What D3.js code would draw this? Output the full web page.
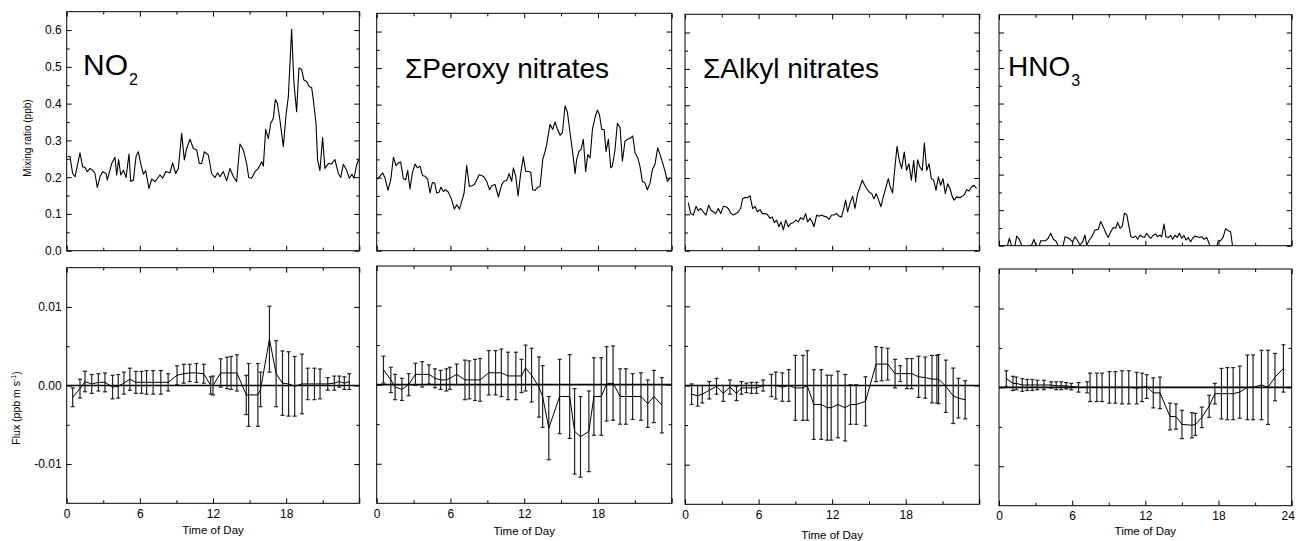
<!DOCTYPE html>
<html>
<head>
<meta charset="utf-8">
<script src="https://cdn.jsdelivr.net/npm/d3@7/dist/d3.min.js"></script>
<style>
  body { margin: 0; background: #fff; }
  svg { font-family: "Liberation Sans", Arial, Helvetica, sans-serif; }
</style>
</head>
<body>
<svg id="chart" width="1296" height="541"></svg>
<script>
// ---- mixing ratios (ppb) ----
const no2Hours = [0.08,0.27,0.49,0.68,1.09,1.31,1.50,1.69,1.91,2.13,2.32,2.51,2.73,2.95,3.23,3.33,3.69,3.96,4.10,4.26,4.43,4.65,4.87,5.11,5.25,5.47,5.69,5.88,6.07,6.29,6.48,6.75,6.97,7.24,7.46,7.65,7.87,8.12,8.47,8.69,8.94,9.16,9.43,9.65,9.84,10.11,10.39,10.66,10.88,11.07,11.29,11.62,11.89,12.16,12.38,12.57,12.85,13.12,13.39,13.67,13.94,14.21,14.49,14.76,14.93,15.17,15.44,15.72,15.99,16.13,16.32,16.54,16.73,16.95,17.11,17.28,17.49,17.77,17.99,18.18,18.45,18.64,18.86,19.05,19.27,19.46,19.68,19.90,20.09,20.23,20.45,20.58,20.77,20.99,21.18,21.46,21.73,22.00,22.28,22.47,22.69,22.96,23.18,23.40,23.56,23.78,23.94];
const no2Mix = [0.256,0.256,0.210,0.201,0.266,0.228,0.227,0.215,0.224,0.219,0.210,0.172,0.201,0.215,0.210,0.192,0.237,0.254,0.206,0.248,0.206,0.219,0.199,0.263,0.188,0.192,0.257,0.269,0.237,0.208,0.218,0.169,0.195,0.188,0.197,0.206,0.197,0.215,0.212,0.239,0.210,0.224,0.319,0.247,0.278,0.303,0.278,0.274,0.237,0.237,0.269,0.260,0.210,0.199,0.212,0.201,0.215,0.190,0.224,0.201,0.188,0.290,0.274,0.237,0.199,0.197,0.215,0.224,0.242,0.230,0.330,0.305,0.346,0.360,0.411,0.401,0.355,0.283,0.369,0.419,0.602,0.455,0.378,0.497,0.493,0.464,0.460,0.446,0.444,0.410,0.346,0.247,0.218,0.308,0.224,0.237,0.236,0.248,0.210,0.199,0.235,0.219,0.197,0.208,0.197,0.233,0.248];

const peroxyHours = [0.05,0.27,0.49,0.68,0.92,1.14,1.36,1.57,1.76,1.95,2.17,2.36,2.52,2.71,2.90,3.12,3.31,3.53,3.72,3.93,4.15,4.34,4.53,4.72,4.88,5.07,5.23,5.42,5.61,5.83,6.05,6.32,6.51,6.73,6.92,7.11,7.32,7.54,7.73,7.95,8.14,8.33,8.54,8.73,8.95,9.17,9.36,9.63,9.90,10.17,10.36,10.58,10.77,10.98,11.12,11.31,11.50,11.72,11.93,12.12,12.34,12.53,12.69,12.88,13.10,13.29,13.51,13.70,13.83,14.10,14.32,14.51,14.70,14.92,15.11,15.32,15.51,15.73,15.95,16.14,16.27,16.46,16.62,16.81,17.00,17.17,17.36,17.55,17.76,17.95,18.12,18.31,18.50,18.66,18.85,19.04,19.17,19.39,19.58,19.80,19.99,20.20,20.42,20.67,20.83,21.02,21.24,21.42,21.61,21.83,22.02,22.24,22.43,22.64,22.86,23.05,23.27,23.46,23.65,23.87];
const peroxyMix = [0.196,0.204,0.213,0.199,0.165,0.194,0.256,0.233,0.240,0.243,0.197,0.194,0.220,0.169,0.213,0.237,0.227,0.231,0.206,0.204,0.196,0.158,0.187,0.185,0.158,0.160,0.174,0.162,0.167,0.160,0.144,0.114,0.126,0.114,0.135,0.158,0.233,0.176,0.178,0.181,0.194,0.208,0.206,0.202,0.190,0.167,0.178,0.181,0.147,0.181,0.190,0.192,0.211,0.190,0.227,0.204,0.150,0.213,0.257,0.217,0.217,0.215,0.167,0.165,0.174,0.176,0.250,0.272,0.291,0.346,0.332,0.352,0.334,0.316,0.323,0.396,0.380,0.323,0.268,0.211,0.250,0.272,0.277,0.305,0.217,0.263,0.254,0.332,0.364,0.385,0.373,0.332,0.332,0.272,0.305,0.227,0.231,0.277,0.349,0.337,0.245,0.300,0.305,0.309,0.314,0.268,0.254,0.231,0.190,0.185,0.167,0.185,0.222,0.236,0.282,0.263,0.240,0.217,0.190,0.199];

const alkylHours = [0.27,0.46,0.68,0.90,1.09,1.28,1.49,1.71,1.93,2.12,2.31,2.50,2.72,2.91,3.13,3.32,3.53,3.72,3.94,4.16,4.35,4.54,4.70,4.89,5.11,5.30,5.52,5.71,5.90,6.12,6.31,6.52,6.71,6.93,7.12,7.28,7.47,7.66,7.83,8.02,8.21,8.43,8.62,8.83,9.05,9.24,9.43,9.65,9.84,10.00,10.19,10.38,10.52,10.74,10.93,11.14,11.33,11.55,11.74,11.96,12.15,12.37,12.56,12.77,12.91,13.10,13.26,13.45,13.67,13.86,14.08,14.27,14.46,14.65,14.81,15.00,15.22,15.41,15.60,15.79,15.98,16.17,16.39,16.58,16.74,16.93,17.12,17.29,17.48,17.67,17.88,18.07,18.26,18.46,18.65,18.81,18.97,19.16,19.35,19.52,19.71,19.90,20.09,20.28,20.47,20.66,20.85,21.04,21.23,21.42,21.61,21.80,21.96,22.15,22.37,22.56,22.78,22.97,23.16,23.37,23.57,23.78];
const alkylMix = [0.132,0.102,0.098,0.122,0.110,0.116,0.107,0.098,0.125,0.111,0.107,0.102,0.116,0.102,0.122,0.121,0.116,0.104,0.098,0.102,0.107,0.116,0.143,0.146,0.146,0.151,0.116,0.122,0.107,0.113,0.102,0.102,0.100,0.089,0.093,0.077,0.084,0.066,0.079,0.057,0.084,0.066,0.075,0.077,0.084,0.079,0.091,0.086,0.102,0.079,0.089,0.079,0.066,0.098,0.095,0.098,0.095,0.093,0.086,0.098,0.098,0.102,0.095,0.093,0.111,0.139,0.107,0.130,0.150,0.116,0.157,0.175,0.194,0.180,0.171,0.162,0.157,0.143,0.157,0.139,0.121,0.148,0.175,0.198,0.175,0.159,0.230,0.287,0.248,0.226,0.271,0.221,0.239,0.194,0.248,0.189,0.250,0.230,0.221,0.296,0.221,0.239,0.198,0.194,0.166,0.203,0.180,0.198,0.157,0.184,0.171,0.148,0.139,0.148,0.146,0.148,0.154,0.168,0.164,0.175,0.180,0.171];

const hno3Hours = [0.08,0.36,0.63,0.85,1.04,1.26,1.45,1.67,1.86,2.08,2.27,2.54,2.68,2.87,3.03,3.23,3.42,3.63,3.83,4.04,4.24,4.45,4.65,4.86,5.08,5.27,5.41,5.60,5.82,6.04,6.23,6.42,6.64,6.86,7.05,7.19,7.41,7.60,7.87,8.14,8.34,8.55,8.77,8.96,9.16,9.37,9.57,9.73,9.92,10.11,10.28,10.47,10.66,10.82,11.01,11.21,11.37,11.56,11.75,11.92,12.11,12.30,12.46,12.65,12.85,13.01,13.20,13.34,13.53,13.69,13.88,14.08,14.24,14.43,14.62,14.79,14.98,15.17,15.33,15.52,15.71,15.88,16.07,16.26,16.43,16.62,16.81,17.03,17.22,17.35,17.79,17.98,18.17,18.39,18.58,18.80,18.99,19.16,19.35];
const hno3Mix = [-0.008,0.000,-0.008,0.021,-0.001,-0.008,0.027,0.018,0.000,-0.008,-0.008,0.000,0.002,0.018,0.000,-0.008,0.014,0.014,0.014,0.021,0.035,0.018,0.014,0.000,-0.008,0.002,0.025,0.023,0.018,0.011,0.025,0.016,0.002,0.011,0.030,0.002,0.016,0.025,0.044,0.046,0.068,0.053,0.035,0.023,0.039,0.051,0.049,0.066,0.049,0.055,0.091,0.088,0.053,0.025,0.023,0.027,0.018,0.030,0.025,0.023,0.035,0.025,0.021,0.030,0.033,0.025,0.030,0.025,0.061,0.025,0.023,0.029,0.018,0.030,0.023,0.035,0.021,0.029,0.016,0.023,0.011,0.021,0.027,0.025,0.023,0.025,0.018,0.023,0.007,-0.008,-0.010,0.014,0.014,0.025,0.048,0.042,0.039,-0.003,-0.022];

// ---- fluxes (ppb m s-1) with error bars ----
const no2FluxHours = [0.49,1.09,1.5,2.05,2.6,3.14,3.76,4.23,4.69,5.18,5.67,6.14,6.55,7.09,7.72,8.32,9.05,9.6,10.09,10.64,11.24,11.81,12.0,12.63,13.15,13.48,13.96,14.73,14.92,15.68,15.9,16.63,17.18,17.7,18.2,18.7,19.3,19.77,20.32,20.78,21.41,21.95,22.36,22.77,23.18];
const no2Flux = [-0.0015,-0.0004,0.0005,0.0002,0.0004,0.0004,-0.0002,-0.0001,0.0003,0.0008,0.0004,0.0004,0.0004,0.0004,0.0004,0.0004,0.0013,0.0015,0.0016,0.0016,0.0015,0.0000,0.0000,0.0016,0.0016,0.0016,0.0016,-0.0012,-0.0012,-0.0012,-0.0005,0.0059,0.0015,0.0003,0.0002,-0.0001,0.0002,0.0002,0.0002,0.0002,0.0002,0.0003,0.0005,0.0003,0.0005];
const no2FluxErr = [0.0012,0.0012,0.0013,0.0012,0.0011,0.0012,0.0015,0.0015,0.0014,0.0014,0.0014,0.0014,0.0015,0.0015,0.0015,0.0011,0.0012,0.0012,0.0011,0.0012,0.0012,0.0011,0.0012,0.0018,0.0020,0.0021,0.0023,0.0025,0.0040,0.0040,0.0022,0.0042,0.0042,0.0041,0.0041,0.0038,0.0038,0.0020,0.0020,0.0019,0.0008,0.0009,0.0007,0.0008,0.0010];

const peroxyFluxHours = [0.55,1.15,1.5,2.05,2.6,3.15,3.7,4.25,4.74,5.2,5.67,5.95,6.5,7.18,7.53,8.0,8.41,9.12,9.67,10.14,10.68,11.32,11.78,12.11,12.6,13.2,13.5,14.0,14.88,15.7,16.1,16.58,17.26,17.67,18.27,18.71,19.23,19.8,20.27,20.82,21.5,22.05,22.55,23.2];
const peroxyFlux = [0.0019,0.0006,-0.0003,-0.0006,0.0000,0.0013,0.0013,0.0013,0.0008,0.0006,0.0006,0.0008,0.0013,0.0006,0.0006,0.0006,0.0006,0.0015,0.0015,0.0015,0.0011,0.0011,0.0011,0.0021,0.0012,-0.0003,-0.0015,-0.0055,-0.0015,-0.0015,-0.0059,-0.0066,-0.0059,-0.0015,-0.0015,0.0001,0.0002,-0.0015,-0.0015,-0.0015,-0.0015,-0.0024,-0.0015,-0.0026];
const peroxyFluxErr = [0.0017,0.0016,0.0016,0.0014,0.0014,0.0014,0.0016,0.0012,0.0012,0.0012,0.0014,0.0014,0.0013,0.0025,0.0024,0.0026,0.0027,0.0028,0.0028,0.0030,0.0030,0.0030,0.0021,0.0029,0.0034,0.0038,0.0039,0.0040,0.0047,0.0053,0.0054,0.0051,0.0051,0.0049,0.0049,0.0047,0.0047,0.0035,0.0035,0.0029,0.0030,0.0030,0.0033,0.0035];

const alkylFluxHours = [0.54,1.03,1.41,1.98,2.57,3.12,3.66,4.2,4.6,5.01,5.42,5.83,6.37,7.05,7.4,7.94,8.46,9.0,9.62,9.97,10.5,11.11,11.6,11.92,12.47,13.06,13.5,13.96,14.72,15.58,16.04,16.53,17.13,17.56,18.1,18.48,19.05,19.59,20.14,20.54,20.68,21.27,21.87,22.3,22.85];
const alkylFlux = [-0.0011,-0.0013,-0.0011,-0.0006,-0.0001,-0.0010,-0.0002,-0.0010,-0.0003,-0.0003,-0.0003,-0.0003,0.0000,0.0000,0.0000,-0.0002,0.0000,-0.0003,-0.0003,0.0000,-0.0024,-0.0024,-0.0028,-0.0028,-0.0024,-0.0028,-0.0024,-0.0024,-0.0020,0.0027,0.0027,0.0027,0.0015,0.0015,0.0015,0.0015,0.0011,0.0010,0.0008,0.0008,0.0008,-0.0001,-0.0013,-0.0016,-0.0018];
const alkylFluxErr = [0.0013,0.0013,0.0011,0.0011,0.0010,0.0010,0.0009,0.0009,0.0008,0.0006,0.0007,0.0007,0.0007,0.0014,0.0017,0.0018,0.0020,0.0041,0.0041,0.0044,0.0044,0.0044,0.0041,0.0041,0.0042,0.0042,0.0025,0.0025,0.0031,0.0022,0.0021,0.0020,0.0018,0.0010,0.0019,0.0019,0.0026,0.0026,0.0030,0.0030,0.0031,0.0033,0.0035,0.0025,0.0024];

const hno3FluxHours = [0.6,1.15,1.42,1.91,2.32,2.73,3.14,3.68,4.28,4.69,5.1,5.51,5.92,6.52,7.23,7.47,8.02,8.45,9.05,9.54,10.09,10.64,11.29,11.73,12.11,12.65,13.2,14.02,14.51,15.0,15.82,16.1,16.63,17.23,17.7,18.24,18.73,19.2,19.74,20.37,20.83,21.52,22.06,22.63,23.32];
const hno3Flux = [0.0011,0.0005,0.0005,0.0003,0.0003,0.0003,0.0003,0.0003,0.0003,0.0002,0.0002,0.0002,0.0001,0.0000,0.0000,0.0000,0.0000,0.0000,0.0000,0.0000,0.0000,0.0000,-0.0001,0.0000,0.0001,-0.0007,-0.0007,-0.0037,-0.0037,-0.0047,-0.0048,-0.0047,-0.0038,-0.0024,-0.0008,-0.0008,-0.0008,-0.0008,-0.0006,0.0000,0.0000,0.0003,0.0000,0.0013,0.0024];
const hno3FluxErr = [0.0010,0.0009,0.0008,0.0008,0.0007,0.0007,0.0006,0.0006,0.0004,0.0005,0.0005,0.0004,0.0004,0.0006,0.0007,0.0018,0.0018,0.0018,0.0020,0.0020,0.0021,0.0021,0.0020,0.0018,0.0015,0.0019,0.0020,0.0017,0.0016,0.0018,0.0016,0.0014,0.0013,0.0014,0.0013,0.0032,0.0033,0.0033,0.0033,0.0041,0.0041,0.0044,0.0047,0.0030,0.0030];

// ---- labels and ticks ----
const speciesNames = ["NO", "\u03A3Peroxy nitrates", "\u03A3Alkyl nitrates", "HNO"];
const speciesSubs = ["2", "", "", "3"];
const hourTicks = [0, 6, 12, 18, 24];
const hourMinor = [3, 9, 15, 21];
const mixTicks = [0, 0.1, 0.2, 0.3, 0.4, 0.5, 0.6];
const mixMinor = [0.05, 0.15, 0.25, 0.35, 0.45, 0.55];
const fluxTicks = [-0.01, 0, 0.01];
const fluxMinor = [-0.005, 0.005];

// panel boxes
const boxes = [
  {x0: 66.7, x1: 359.3, y0: 11.7, y1: 250.7, f0: 267.7, f1: 503.3, tb: 534, tx: 83, ty: 75, fs: 30},
  {x0: 376.7, x1: 671.7, y0: 13.3, y1: 250.7, f0: 266, f1: 503.3, tb: 535, tx: 405, ty: 78, fs: 28},
  {x0: 685, x1: 979.3, y0: 14.3, y1: 250.7, f0: 266.7, f1: 504.3, tb: 539, tx: 703, ty: 78, fs: 28},
  {x0: 999, x1: 1291.7, y0: 14.7, y1: 245.7, f0: 269, f1: 505.7, tb: 535, tx: 1008, ty: 76, fs: 28}
];

const mixSeries = [[no2Hours, no2Mix], [peroxyHours, peroxyMix], [alkylHours, alkylMix], [hno3Hours, hno3Mix]];
const fluxSeries = [
  [no2FluxHours, no2Flux, no2FluxErr],
  [peroxyFluxHours, peroxyFlux, peroxyFluxErr],
  [alkylFluxHours, alkylFlux, alkylFluxErr],
  [hno3FluxHours, hno3Flux, hno3FluxErr]
];

const svg = d3.select("#chart");
const fmt1 = d => d.toFixed(1);
const fmt2 = d => d.toFixed(2);

// inward ticks on all four sides
function frameAxes(g, x, y, yMaj, yMin, yFmt, xFmt) {
  const yb = y.range()[0], yt = y.range()[1];
  const xl = x.range()[0], xr = x.range()[1];
  g.append("g").attr("transform", "translate(0," + yb + ")")
    .call(d3.axisBottom(x).tickValues(hourTicks).tickSize(-5).tickPadding(6).tickFormat(xFmt || ""));
  g.append("g").attr("transform", "translate(0," + yb + ")")
    .call(d3.axisBottom(x).tickValues(hourMinor).tickSize(-3).tickFormat(""));
  g.append("g").attr("transform", "translate(0," + yt + ")")
    .call(d3.axisTop(x).tickValues(hourTicks).tickSize(-5).tickFormat(""));
  g.append("g").attr("transform", "translate(0," + yt + ")")
    .call(d3.axisTop(x).tickValues(hourMinor).tickSize(-3).tickFormat(""));
  g.append("g").attr("transform", "translate(" + xl + ",0)")
    .call(d3.axisLeft(y).tickValues(yMaj).tickSize(-5).tickPadding(5).tickFormat(yFmt || ""));
  g.append("g").attr("transform", "translate(" + xl + ",0)")
    .call(d3.axisLeft(y).tickValues(yMin).tickSize(-3).tickFormat(""));
  g.append("g").attr("transform", "translate(" + xr + ",0)")
    .call(d3.axisRight(y).tickValues(yMaj).tickSize(-5).tickFormat(""));
  g.append("g").attr("transform", "translate(" + xr + ",0)")
    .call(d3.axisRight(y).tickValues(yMin).tickSize(-3).tickFormat(""));
  g.selectAll(".domain").remove();
  g.selectAll(".tick line").attr("stroke", "#000").attr("stroke-width", 1);
  g.selectAll(".tick text").attr("font-size", 12).attr("fill", "#000")
    .attr("font-family", "'Liberation Sans', Arial, Helvetica, sans-serif");
  g.append("rect")
    .attr("x", xl).attr("y", yt).attr("width", xr - xl).attr("height", yb - yt)
    .attr("fill", "none").attr("stroke", "#000").attr("stroke-width", 1);
}

boxes.forEach(function(b, i) {
  const x = d3.scaleLinear().domain([0, 24]).range([b.x0, b.x1]);
  const yMix = d3.scaleLinear().domain([0, 0.65]).range([b.y1, b.y0]);
  const yFlux = d3.scaleLinear().domain([-0.015, 0.015]).range([b.f1, b.f0]);

  // ---- top: mixing ratio ----
  const top = svg.append("g");
  top.append("clipPath").attr("id", "clipTop" + i)
    .append("rect").attr("x", b.x0).attr("y", b.y0).attr("width", b.x1 - b.x0).attr("height", b.y1 - b.y0);

  const hrs = mixSeries[i][0], vals = mixSeries[i][1];
  const line = d3.line()
    .x(function(d, k) { return x(hrs[k]); })
    .y(function(d) { return yMix(d); });
  top.append("path")
    .datum(vals)
    .attr("clip-path", "url(#clipTop" + i + ")")
    .attr("fill", "none").attr("stroke", "#000").attr("stroke-width", 1.1)
    .attr("stroke-linejoin", "round")
    .attr("d", line);

  frameAxes(top, x, yMix, mixTicks, mixMinor, i === 0 ? fmt1 : null, null);

  // species label
  const lab = top.append("text")
    .attr("x", b.tx).attr("y", b.ty)
    .attr("font-size", b.fs).attr("fill", "#000")
    .text(speciesNames[i]);
  if (speciesSubs[i]) {
    lab.append("tspan").attr("dx", 1).attr("dy", 10).attr("font-size", 16).text(speciesSubs[i]);
  }

  // ---- bottom: flux ----
  const bot = svg.append("g");
  const fh = fluxSeries[i][0], fv = fluxSeries[i][1], fe = fluxSeries[i][2];
  const pts = fh.map(function(h, k) { return {h: h, v: fv[k], e: fe[k]}; });

  // zero line
  bot.append("line")
    .attr("x1", b.x0).attr("x2", b.x1)
    .attr("y1", yFlux(0)).attr("y2", yFlux(0))
    .attr("stroke", "#000").attr("stroke-width", 1.6);

  // error bars
  const bars = bot.append("g").attr("stroke", "#222").attr("stroke-width", 1.2);
  bars.selectAll(".stem").data(pts).enter().append("line")
    .attr("x1", d => x(d.h)).attr("x2", d => x(d.h))
    .attr("y1", d => yFlux(d.v - d.e)).attr("y2", d => yFlux(d.v + d.e));
  bars.selectAll(".capHi").data(pts).enter().append("line")
    .attr("x1", d => x(d.h) - 2).attr("x2", d => x(d.h) + 2)
    .attr("y1", d => yFlux(d.v + d.e)).attr("y2", d => yFlux(d.v + d.e));
  bars.selectAll(".capLo").data(pts).enter().append("line")
    .attr("x1", d => x(d.h) - 2).attr("x2", d => x(d.h) + 2)
    .attr("y1", d => yFlux(d.v - d.e)).attr("y2", d => yFlux(d.v - d.e));

  bot.append("path")
    .datum(pts)
    .attr("fill", "none").attr("stroke", "#000").attr("stroke-width", 1)
    .attr("d", d3.line().x(d => x(d.h)).y(d => yFlux(d.v)));

  const xFmt = function(d) { return (d === 24 && i < 3) ? "" : d; };
  frameAxes(bot, x, yFlux, fluxTicks, fluxMinor, i === 0 ? fmt2 : null, xFmt);
  // last label sits at the page edge, pull it in a bit
  bot.selectAll(".tick text").filter(d => d === 24).attr("dx", -4);

  bot.append("text")
    .attr("x", (b.x0 + b.x1) / 2).attr("y", b.tb)
    .attr("text-anchor", "middle").attr("font-size", 11.5).attr("fill", "#000")
    .text("Time of Day");
});

// y axis titles
svg.append("text")
  .attr("transform", "translate(31,138) rotate(-90)")
  .attr("text-anchor", "middle").attr("font-size", 10).attr("fill", "#000")
  .text("Mixing ratio (ppb)");

const fluxTitle = svg.append("text")
  .attr("transform", "translate(20,408) rotate(-90)")
  .attr("text-anchor", "middle").attr("font-size", 10.5).attr("fill", "#000");
fluxTitle.append("tspan").text("Flux (ppb m s");
fluxTitle.append("tspan").attr("dy", -4).attr("font-size", 7).text("-1");
fluxTitle.append("tspan").attr("dy", 4).text(")");
</script>
</body>
</html>
